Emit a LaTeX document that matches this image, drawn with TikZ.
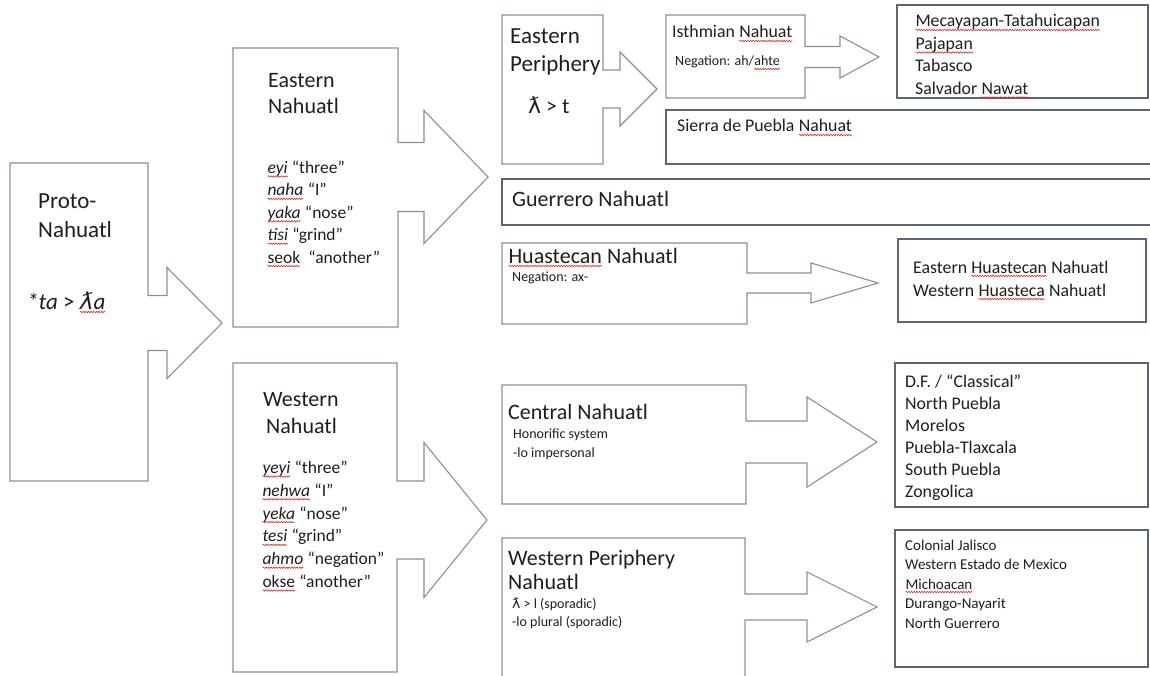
\documentclass[tikz,border=0pt]{standalone}
\usepackage{fontspec}
\setmainfont{Carlito}
\newfontfamily\lamfont{DejaVu Sans}
\usetikzlibrary{decorations.pathmorphing}

\definecolor{calloutline}{RGB}{132,144,160}
\definecolor{boxline}{RGB}{92,102,116}
\definecolor{txt}{RGB}{30,30,30}
\definecolor{spellred}{RGB}{215,45,45}

% red spell-check wave under a word
\newcommand\spell[1]{\tikz[baseline=(sw.base)]{\node[inner sep=0pt, outer sep=0pt, anchor=base] (sw) {#1};
  \draw[spellred, line width=0.6pt, decorate, decoration={snake, amplitude=0.7pt, segment length=2.6pt}]
    ([yshift=-3pt]sw.base west) -- ([yshift=-3pt]sw.base east);}}

% box with arrow: left, top, right, bottom, centre y, shaft half, head half, shaft end, tip
\newcommand\callout[9]{%
  \draw[calloutline, line width=1.1pt] (#1,#2) -- (#3,#2) -- (#3,#5-#6) -- (#8,#5-#6) -- (#8,#5-#7)
    -- (#9,#5) -- (#8,#5+#7) -- (#8,#5+#6) -- (#3,#5+#6) -- (#3,#4) -- (#1,#4) -- cycle;}

\begin{document}
\begin{tikzpicture}[x=1pt, y=-1pt,
  every node/.style={anchor=base west, inner sep=0pt, text=txt},
  big/.style={font=\fontsize{23}{27}\selectfont},
  head/.style={font=\fontsize{22}{26}\selectfont},
  item/.style={font=\fontsize{17.5}{21}\selectfont},
  sub/.style={font=\fontsize{17.8}{21}\selectfont},
  small/.style={font=\fontsize{15}{18}\selectfont},
  note/.style={font=\fontsize{14}{17}\selectfont}]
\useasboundingbox (0,0) rectangle (1150,676);

% arrow boxes
\callout{10}{163}{148}{481}{323}{27.5}{55.5}{167}{222}
\callout{233}{48}{398}{327}{177}{34.5}{66.5}{424}{488}
\callout{233}{363}{397}{672}{520}{39}{77.5}{424}{487}
\callout{502}{15}{603}{164}{89}{19}{37}{620}{657}
\callout{666}{15}{805}{98}{57}{10.5}{21}{840}{879}
\callout{502}{243}{747}{324}{283}{10}{20}{811}{878}
\callout{502}{385}{746}{504}{442}{21}{45}{807}{877}
\callout{502}{538}{745}{684}{607}{13}{35}{807}{877}

% plain boxes
\draw[boxline, line width=1.1pt] (897,5) rectangle (1148,98);
\draw[boxline, line width=1.1pt] (666,110) rectangle (1154,164);
\draw[boxline, line width=1.1pt] (502,179) rectangle (1154,225);
\draw[boxline, line width=1.1pt] (898,239) rectangle (1146,322);
\draw[boxline, line width=1.1pt] (895,363) rectangle (1148,507);
\draw[boxline, line width=1.1pt] (895,530) rectangle (1148,667);

% Proto-Nahuatl
\node[big] (proto1) at (38,209) {Proto-};
\node[big] (proto2) at (38,237) {Nahuatl};
\node[big] (protolaw) at (27,309) {\textit{*ta} > \spell{{\lamfont\itshape ƛ}\textit{a}}};

% Eastern Nahuatl
\node[head] (east1) at (268,88) {Eastern};
\node[head] (east2) at (268,114) {Nahuatl};
\foreach \t [count=\i] in {{\spell{\textit{eyi}} “three”}, {\spell{\textit{naha}} “I”},
    {\spell{\textit{yaka}} “nose”}, {\spell{\textit{tisi}} “grind”}, {\spell{seok}\ \ “another”}}
  \node[item] (eastw\i) at (267,173.5+22.4*\i-22.4) {\t};

% Western Nahuatl
\node[head] (west1) at (263,406) {Western};
\node[head] (west2) at (266,433) {Nahuatl};
\foreach \t [count=\i] in {{\spell{\textit{yeyi}} “three”}, {\spell{\textit{nehwa}} “I”},
    {\spell{\textit{yeka}} “nose”}, {\spell{\textit{tesi}} “grind”},
    {\spell{\textit{ahmo}} “negation”}, {\spell{okse} “another”}}
  \node[item] (westw\i) at (262,473.5+22.8*\i-22.8) {\t};

% Eastern branch
\node[big] (eper1) at (510,44) {Eastern};
\node[big] (eper2) at (510,72) {Periphery};
\node[head] (eperlaw) at (528,114) {{\lamfont ƛ} > t};
\node[sub] (isth) at (672,38) {Isthmian \spell{Nahuat}};
\node[note] (isthneg) at (675,66) {Negation: ah/\spell{ahte}};
\foreach \t [count=\i] in {{\spell{Mecayapan-Tatahuicapan}}, {\spell{Pajapan}}, {Tabasco}, {Salvador \spell{Nawat}}}
  \node[sub] (isthv\i) at (915,27+22.5*\i-22.5) {\t};
\node[sub] (sierra) at (677,132) {Sierra de Puebla \spell{Nahuat}};
\node[head] (guer) at (512,207) {Guerrero Nahuatl};
\node[head] (huas) at (508,263) {\spell{Huastecan} Nahuatl};
\node[note] (huasneg) at (512,281) {Negation: ax-};
\node[sub] (huasv1) at (913,273) {Eastern \spell{Huastecan} Nahuatl};
\node[sub] (huasv2) at (913,296) {Western \spell{Huasteca} Nahuatl};

% Western branch
\node[head] (cent) at (508,419) {Central Nahuatl};
\node[note] (centf1) at (513,438) {Honorific system};
\node[note] (centf2) at (513,457) {-lo impersonal};
\foreach \t [count=\i] in {{D.F. / “Classical”}, {North Puebla}, {Morelos}, {Puebla-Tlaxcala}, {South Puebla}, {Zongolica}}
  \node[sub] (centv\i) at (905,387+22*\i-22) {\t};
\node[head] (wper1) at (508,565) {Western Periphery};
\node[head] (wper2) at (508,589) {Nahuatl};
\node[note] (wperf1) at (512,608) {{\lamfont ƛ} > l (sporadic)};
\node[note] (wperf2) at (512,626) {-lo plural (sporadic)};
\foreach \t [count=\i] in {{Colonial Jalisco}, {Western Estado de Mexico}, {\spell{Michoacan}}, {Durango-Nayarit}, {North Guerrero}}
  \node[small] (wperv\i) at (905,550+19.5*\i-19.5) {\t};
\end{tikzpicture}
\end{document}
